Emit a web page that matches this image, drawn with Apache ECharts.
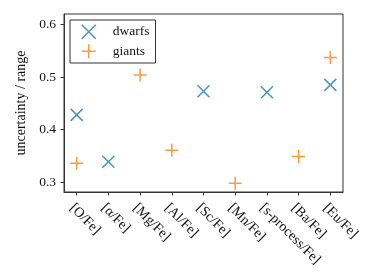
<!DOCTYPE html>
<html>
<head>
<meta charset="utf-8">
<script src="https://cdn.jsdelivr.net/npm/echarts@6/dist/echarts.min.js"></script>
<style>html,body{margin:0;padding:0;background:#fff}#c{width:374px;height:280px}</style>
</head>
<body>
<div id="c"></div>
<script>
const categories = ['[O/Fe]', '[α/Fe]', '[Mg/Fe]', '[Al/Fe]', '[Sc/Fe]', '[Mn/Fe]', '[s-process/Fe]', '[Ba/Fe]', '[Eu/Fe]'];
const dwarfCats = ['[O/Fe]', '[α/Fe]', '[Sc/Fe]', '[s-process/Fe]', '[Eu/Fe]'];
const dwarfVals = [0.428, 0.339, 0.473, 0.471, 0.485];
const giantCats = ['[O/Fe]', '[Mg/Fe]', '[Al/Fe]', '[Mn/Fe]', '[Ba/Fe]', '[Eu/Fe]'];
const giantVals = [0.336, 0.504, 0.361, 0.298, 0.349, 0.537];
const yTicks = [0.3, 0.4, 0.5, 0.6];

const FONT = 'Liberation Serif';
const BLUE = '#1f77b4', ORANGE = '#ff7f0e';
const X_SYM = 'path://M0,0L10,10M10,0L0,10';
const P_SYM = 'path://M5,0L5,10M0,5L10,5';
const xIdx = categories.map((c, i) => i);

const chart = echarts.init(document.getElementById('c'), null, {renderer: 'canvas'});
chart.setOption({
  animation: false,
  backgroundColor: '#fff',
  grid: {left: 64, right: 31, top: 14, bottom: 88, show: true, borderColor: '#333', borderWidth: 1, backgroundColor: 'transparent'},
  xAxis: {
    type: 'value', min: -0.4, max: 8.4,
    axisLine: {show: true, onZero: false, lineStyle: {color: '#333', width: 1}},
    axisTick: {show: true, length: 3.5, customValues: xIdx, lineStyle: {color: '#333', width: 1}},
    splitLine: {show: false},
    axisLabel: {
      customValues: xIdx, rotate: -45, margin: 9,
      align: 'left', verticalAlign: 'top',
      formatter: v => categories[Math.round(v)],
      fontFamily: FONT, fontSize: 14, color: '#111'
    }
  },
  yAxis: {
    type: 'value', min: 0.2816, max: 0.6196,
    name: 'uncertainty / range', nameLocation: 'middle', nameGap: 29,
    nameTextStyle: {fontFamily: FONT, fontSize: 14, color: '#111'},
    axisLine: {show: true, onZero: false, lineStyle: {color: '#333', width: 1}},
    axisTick: {show: true, length: 3.5, customValues: yTicks, lineStyle: {color: '#333', width: 1}},
    splitLine: {show: false},
    axisLabel: {customValues: yTicks, margin: 8, formatter: v => v.toFixed(1), fontFamily: FONT, fontSize: 13.5, color: '#111'}
  },
  legend: {
    left: 70, top: 20, orient: 'vertical',
    backgroundColor: '#fff', borderColor: '#333', borderWidth: 1, borderRadius: 0,
    padding: [4, 6, 4, 11], itemWidth: 14, itemHeight: 14, itemGap: 4,
    textStyle: {fontFamily: FONT, fontSize: 13.5, color: '#111', padding: [0, 0, 0, 12]},
    data: [
      {name: 'dwarfs', icon: X_SYM, itemStyle: {color: 'rgba(0,0,0,0)', borderColor: BLUE, borderWidth: 1.5}},
      {name: 'giants', icon: P_SYM, itemStyle: {color: 'rgba(0,0,0,0)', borderColor: ORANGE, borderWidth: 1.5}}
    ]
  },
  series: [
    {
      name: 'dwarfs', type: 'scatter', symbol: X_SYM, symbolSize: 12,
      itemStyle: {color: 'rgba(0,0,0,0)', borderColor: BLUE, borderWidth: 1.5},
      data: dwarfCats.map((c, i) => [categories.indexOf(c), dwarfVals[i]])
    },
    {
      name: 'giants', type: 'scatter', symbol: P_SYM, symbolSize: 13,
      itemStyle: {color: 'rgba(0,0,0,0)', borderColor: ORANGE, borderWidth: 1.5},
      data: giantCats.map((c, i) => [categories.indexOf(c), giantVals[i]])
    }
  ]
});
</script>
</body>
</html>
